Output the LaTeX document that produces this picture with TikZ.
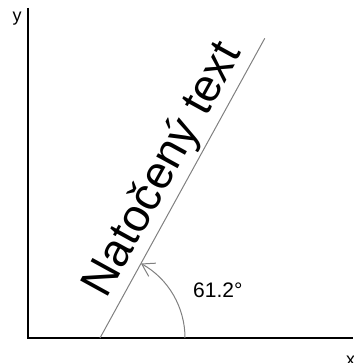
\documentclass[tikz,border=0pt]{standalone}
\usepackage{fontspec}
\setmainfont{Liberation Sans}
\usetikzlibrary{arrows.meta,calc}
\definecolor{guidegray}{HTML}{808080}
\tikzset{
  rot axis/.style={black,line width=2pt},
  rot line/.style={guidegray,line width=1pt},
  rot arrow/.style={guidegray,line width=1pt,-{Straight Barb[length=12pt,width=15pt]}},
  rot label/.style={inner sep=0pt,anchor=base west,font=\fontsize{18}{22}\selectfont}
}

\begin{document}
\begin{tikzpicture}[x=1pt,y=1pt]
  \useasboundingbox (0,0) rectangle (353,363);
  \coordinate (o) at (28,25);
  \coordinate (xend) at (353,25);
  \coordinate (yend) at (28,355);
  \coordinate (foot) at (100,25);
  \coordinate (top) at ($(foot)+(61.2:342)$);
  \coordinate (arcstart) at ($(foot)+(85,0)$);
  \draw[rot axis] (yend)--(o)--(xend);
  \node[rot label] (ylab) at (12.5,341) {y};
  \node[rot label] (xlab) at (346,-2.3) {x};
  \draw[rot line] (foot)--(top);
  \draw[rot arrow] (arcstart) arc[start angle=0,end angle=61.2,radius=85];
  \node[rot label,font=\fontsize{21}{25}\selectfont] (deg) at (193,65) {61.2°};
  \node[rot label,font=\fontsize{46}{55}\selectfont,rotate=61.2] (title)
    at ($(foot)+(61.2:37)+(151.2:13)$) {Natočený text};
\end{tikzpicture}
\end{document}
